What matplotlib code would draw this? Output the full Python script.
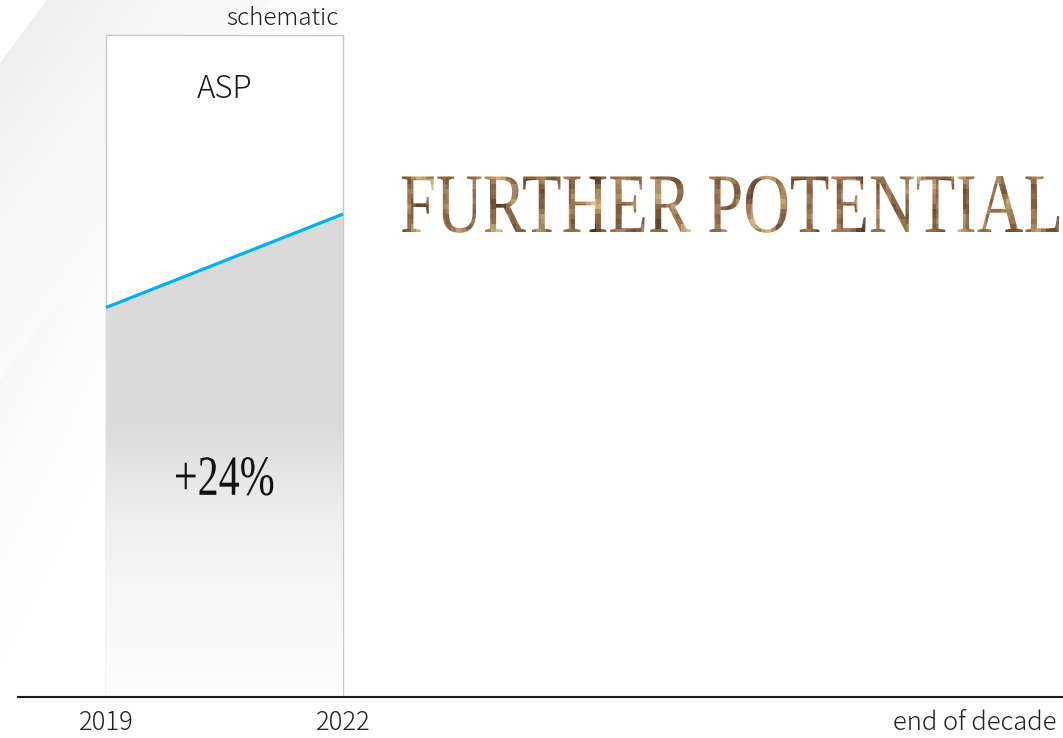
import numpy as np
import matplotlib
matplotlib.use("Agg")
import matplotlib.pyplot as plt
from matplotlib.patches import Rectangle
from matplotlib.patheffects import AbstractPathEffect
from matplotlib.transforms import Affine2D, Bbox

# --- data -------------------------------------------------------------
years = [2019, 2022]
asp_index = [100, 124]           # ASP indexed to 2019 = 100
tick_years = [2019, 2022, 2030]
tick_labels = ["2019", "2022", "end of decade"]
growth_label = "+24%"
headline = "FURTHER POTENTIAL"

# --- layout constants ---------------------------------------------------
W, H, DPI = 1063, 738, 100
PX_PER_YEAR = 79.0
PX_PER_UNIT = 3.895
BOX_TOP = 170
SANS = ["Noto Sans CJK JP", "DejaVu Sans"]
SANS_WEIGHT = "light"
SERIF = ["Liberation Serif", "DejaVu Serif"]


class Tall(AbstractPathEffect):
    """Stretch glyphs vertically about their baseline (a tall, condensed
    look); optionally paint a gilded pattern into the glyph outlines."""

    def __init__(self, baseline, sy, gilded=False, cell=5):
        super().__init__()
        self.baseline = baseline
        self.sy = sy
        self.gilded = gilded
        self.cell = cell

    @staticmethod
    def _gold(x, y):
        t = (0.5 + 0.22 * np.sin(x / 17.0 + 1.3) * np.cos(y / 9.0 + x / 31.0)
             + 0.18 * np.sin(x / 6.1 + y / 4.3) * np.cos(y / 7.7)
             + 0.1 * np.cos(x / 3.3 - y / 8.0))
        t = float(np.clip(t, 0, 1))
        dark = np.array([0.28, 0.19, 0.12])
        mid = np.array([0.58, 0.43, 0.29])
        light = np.array([0.90, 0.79, 0.56])
        if t < 0.5:
            c = dark + (mid - dark) * (t / 0.5)
        else:
            c = mid + (light - mid) * ((t - 0.5) / 0.5)
        return tuple(c)

    def draw_path(self, renderer, gc, tpath, affine, rgbFace=None):
        y0 = self.baseline()
        aff = affine + Affine2D().translate(0, -y0).scale(1.0, self.sy).translate(0, y0)
        if not self.gilded:
            renderer.draw_path(gc, tpath, aff, rgbFace)
            return
        ext = tpath.get_extents(aff)
        c = self.cell
        xs = np.arange(ext.x0 - 1, ext.x1 + c, c)
        ys = np.arange(ext.y0 - 1, ext.y1 + c, c)
        for xa in xs:
            for ya in ys:
                g = renderer.new_gc()
                g.copy_properties(gc)
                g.set_linewidth(0)
                g.set_clip_rectangle(Bbox.from_extents(xa, ya, xa + c, ya + c))
                renderer.draw_path(g, tpath, aff, self._gold(xa + c / 2, ya + c / 2))
                g.restore()


fig = plt.figure(figsize=(W / DPI, H / DPI), dpi=DPI)
fig.patch.set_facecolor("white")

# soft diagonal light-grey background panel on the left
bg = fig.add_axes([0, 0, 1, 1], zorder=0)
bg.axis("off")
yy, xx = np.mgrid[0:H, 0:W].astype(float)
fa = xx / 46.0 + yy / 62.0 - 1.0
dist_a = fa / np.hypot(1 / 46.0, 1 / 62.0)
b_line = 380.0 - 1.402 * xx
dark = np.zeros_like(xx)
band = (fa > 0) & (yy <= b_line)
dark[band] = 0.065 * np.exp(-dist_a[band] / 150.0)
below = yy > b_line
dark[below] = 0.03 * np.exp(-(yy[below] - b_line[below]) / 140.0) * np.exp(-xx[below] / 220.0)
shade = 1.0 - dark
bg.imshow(np.dstack([shade] * 3), extent=(0, W, H, 0), aspect="auto", interpolation="bilinear")
bg.set_xlim(0, W)
bg.set_ylim(H, 0)

# main chart axes: bottom spine is the time axis
ax = fig.add_axes([18 / W, 41 / H, (W - 18) / W, 697 / H], zorder=1)
ax.patch.set_alpha(0)
x_lo = years[0] - (106 - 18) / PX_PER_YEAR
x_hi = years[1] + (W - 343) / PX_PER_YEAR
y_hi = 697 / PX_PER_UNIT

ax.add_patch(Rectangle((years[0], 0), years[1] - years[0], BOX_TOP,
                       facecolor="white", edgecolor="#c8c8c8", lw=1.0, zorder=1))

area = ax.fill_between(years, asp_index, 0, facecolor="none", edgecolor="none", zorder=2)
levels = np.linspace(0, y_hi, 600)
gray = np.interp(levels, [0, 25, 43, 56, 70, 500], [0.99, 0.97, 0.943, 0.905, 0.857, 0.855])
grad = np.dstack([np.tile(gray[:, None], (1, 4))] * 3)
im = ax.imshow(grad, extent=(years[0], years[1], 0, y_hi), origin="lower",
               aspect="auto", interpolation="bilinear", zorder=2)
im.set_clip_path(area.get_paths()[0], ax.transData)

ax.plot(years, asp_index, color="#00b0f0", lw=2.3, solid_capstyle="butt", zorder=3)

ax.set_xlim(x_lo, x_hi)
ax.set_ylim(0, y_hi)
for s in ("top", "left", "right"):
    ax.spines[s].set_visible(False)
ax.spines["bottom"].set_color("#1a1a1a")
ax.spines["bottom"].set_linewidth(1.5)
ax.set_yticks([])
ax.set_xticks(tick_years, tick_labels)
ax.tick_params(axis="x", length=0, pad=9, labelsize=18.4, labelcolor="#222222")
for lab in ax.get_xticklabels():
    lab.set_family(SANS)
    lab.set_weight(SANS_WEIGHT)

mid_x = (years[0] + years[1]) / 2
ax.text(mid_x, 156, "ASP", ha="center", va="center", fontsize=22.5,
        color="#1a1a1a", family=SANS, weight=SANS_WEIGHT, zorder=4)
ax.annotate("schematic", xy=(years[1], BOX_TOP), xytext=(-3.5, 7),
            textcoords="offset points", ha="right", va="baseline",
            fontsize=17.5, color="#222222", family=SANS, weight=SANS_WEIGHT, zorder=4)

growth_y = 51.9
ax.text(mid_x, growth_y, growth_label, ha="center", va="baseline", fontsize=30.3,
        color="#111111", family=SERIF, zorder=4,
        path_effects=[Tall(lambda: ax.transData.transform((mid_x, growth_y))[1], 1.35)])

head_x = 400 / W
head_y = (H - 232) / H
fig.text(head_x, head_y, headline, ha="left", va="baseline", fontsize=46.6,
         color="#8a6a48", family=SERIF, zorder=5,
         path_effects=[Tall(lambda: fig.transFigure.transform((0, head_y))[1], 1.31,
                            gilded=True)])

fig.savefig("out.png", dpi=DPI, facecolor="white")
